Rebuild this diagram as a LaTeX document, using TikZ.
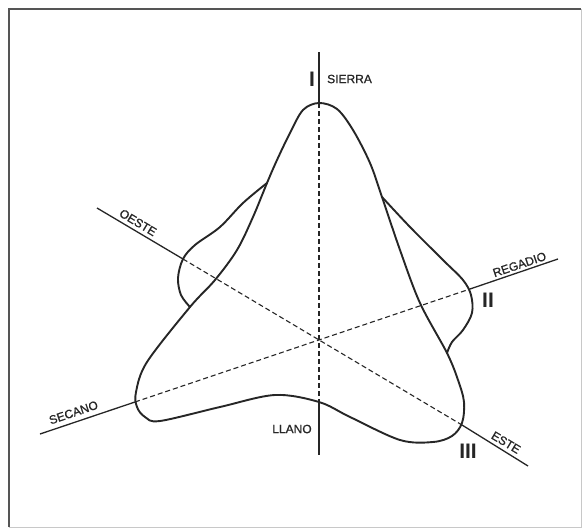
\documentclass[tikz,border=0pt]{standalone}
\usepackage{fontspec}
\setmainfont{Liberation Sans}
\newfontfamily\labfont[FakeBold=1]{Liberation Sans}
\definecolor{inkc}{HTML}{262626}
\definecolor{framec}{HTML}{555555}
\definecolor{framelt}{HTML}{C8C8C8}
\begin{document}
\begin{tikzpicture}[x=1pt,y=-1pt,
  curve/.style={draw=inkc, line width=1.9pt, line join=round, line cap=round},
  axis/.style={draw=inkc, line width=1.3pt},
  axisdash/.style={draw=inkc, line width=1.1pt, dash pattern=on 5pt off 3pt},
  lab/.style={font=\labfont\fontsize{12}{12}\selectfont, text=inkc, inner sep=0pt},
  roman/.style={font=\fontsize{21}{21}\selectfont\bfseries, text=inkc, inner sep=0pt}]
\useasboundingbox (0,0) rectangle (582,528);
\fill[white] (0,0) rectangle (582,528);
% frame
\draw[line width=2pt, draw=framec] (9,527) -- (9,9) -- (581,9);
\draw[line width=0.8pt, draw=framelt] (581,9) -- (581,527) -- (9,527);
% axis points
\coordinate (C) at (319,340);
\coordinate (Vt) at (319,52);
\coordinate (Vb) at (319,455);
\coordinate (Vpk) at (319,103);
\coordinate (Vll) at (319,402);
\coordinate (Ow) at (97,208);
\coordinate (Oc) at (183,259);
\coordinate (Ec) at (462,425);
\coordinate (Ee) at (528,466);
\coordinate (Sw) at (40,434);
\coordinate (Sc) at (135,402);
\coordinate (Rc) at (470,289);
\coordinate (Re) at (558,259);
% solid axis parts
\draw[axis] (Vt) -- (Vpk);
\draw[axis] (Vll) -- (Vb);
\draw[axis] (Ow) -- (Oc);
\draw[axis] (Ec) -- (Ee);
\draw[axis] (Sw) -- (Sc);
\draw[axis] (Rc) -- (Re);
% dashed axis parts
\draw[axisdash] (Vpk) -- (Vll);
\draw[axisdash] (Oc) -- (Ec);
\draw[axisdash] (Sc) -- (Rc);
% main curve
\draw[curve] plot[smooth cycle, tension=0.55] coordinates {
  (319,103) (337,109) (353,130) (370,163) (382,197) (400,250) (420,303)
  (447,353) (458,380) (464,402) (462,423) (452,436) (433,442) (400,440)
  (350,417) (319,402) (275,395) (220,407) (160,421) (145,417) (137,407)
  (136,392) (147,362) (190,307) (215,280) (237,250) (253,217) (267,183)
  (277,160) (290,133) (303,110)};
% left bulge
\draw[curve] plot[smooth, tension=0.55] coordinates {
  (267,183) (243,203) (220,227) (195,245) (183,259) (178,278) (181,295) (190,307)};
% right bulge
\draw[curve] plot[smooth, tension=0.55] coordinates {
  (382,197) (410,227) (443,260) (463,280) (471,295) (472,313) (463,330) (452,342) (447,353)};
% labels
\node[roman] (nI) at (312,79) {I};
\node[lab, anchor=west] (nS) at (327,79) {SIERRA};
\node[lab, rotate=-31] (nO) at (138,222.5) {OESTE};
\node[lab, rotate=18.7] (nR) at (519.5,264.5) {REGADIO};
\node[roman] (nII) at (488,300) {II};
\node[lab, rotate=18.7] (nSe) at (73.5,412.5) {SECANO};
\node[lab] (nL) at (292,429) {LLANO};
\node[roman] (nIII) at (468,451) {III};
\node[lab, rotate=-31] (nE) at (506,442.5) {ESTE};
\end{tikzpicture}
\end{document}
